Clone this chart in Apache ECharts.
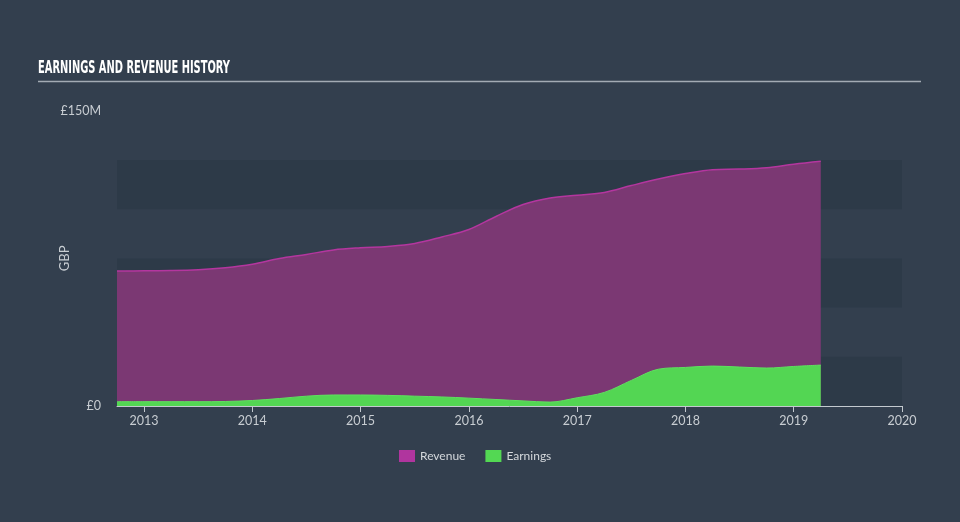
<!DOCTYPE html>
<html><head><meta charset="utf-8">
<script src="https://cdn.jsdelivr.net/npm/echarts@6/dist/echarts.min.js"></script>
<style>html,body{margin:0;padding:0;background:#333f4e;}#c{width:960px;height:522px;}</style>
</head><body><div id="c"></div>
<script>
const years = [2012.75,2013.0,2013.25,2013.5,2013.75,2014.0,2014.25,2014.5,2014.75,2015.0,2015.25,2015.5,2015.75,2016.0,2016.25,2016.5,2016.75,2017.0,2017.25,2017.5,2017.75,2018.0,2018.25,2018.5,2018.75,2019.0,2019.25];
const revenue = [68.6,68.7,68.8,69.2,70.2,72.0,74.9,77.0,79.3,80.4,81.1,82.6,85.9,89.7,96.3,102.4,105.7,107.1,108.5,112.0,115.3,118.1,120.1,120.4,121.1,122.9,124.4];
const earnings = [2.2,2.2,2.2,2.2,2.3,2.8,3.8,5.0,5.6,5.6,5.4,5.0,4.6,4.0,3.3,2.6,2.0,4.2,6.9,13.0,18.7,19.6,20.3,19.8,19.3,20.1,20.8];
const yearTicks = [2013,2014,2015,2016,2017,2018,2019,2020];
const yLabels = {0:'£0',150:'£150M'};

const chart = echarts.init(document.getElementById('c'), null, {renderer:'canvas'});
const font = 'Lato, "Open Sans", sans-serif';
chart.setOption({
  backgroundColor:'#333f4e',
  animation:false,
  graphic:[
    {type:'text', x:38, y:59, style:{text:'EARNINGS AND REVENUE HISTORY', fill:'#ffffff', font:'bold 18px "DejaVu Sans Condensed", "Liberation Sans Narrow", sans-serif'}, scaleX:0.61},
    {type:'line', shape:{x1:38,y1:81.5,x2:921,y2:81.5}, style:{stroke:'#a3abb4', lineWidth:1.5}}
  ],
  grid:{left:117, right:58, top:110.8, bottom:116},
  legend:{left:399, top:450, padding:0, itemWidth:16, itemHeight:12, itemGap:20, icon:'rect',
    textStyle:{color:'#d4d8dc', fontSize:12, fontFamily:font},
    data:['Revenue','Earnings']},
  xAxis:{type:'value', min:2012.75, max:2020,
    axisLine:{lineStyle:{color:'#c3c9cf', width:1}},
    axisTick:{customValues:yearTicks, length:6, lineStyle:{color:'#c3c9cf'}},
    axisLabel:{customValues:yearTicks, color:'#c8cdd2', fontSize:12.5, fontFamily:font, margin:8, formatter:v=>String(Math.round(v))},
    splitLine:{show:false}},
  yAxis:{type:'value', min:0, max:150, interval:25, name:'GBP', nameLocation:'middle', nameGap:46, nameMoveOverlap:false,
    nameTextStyle:{color:'#c8cdd2', fontSize:13, fontFamily:font},
    axisLine:{show:false}, axisTick:{show:false},
    axisLabel:{color:'#c8cdd2', fontSize:12.5, fontFamily:font, margin:16, formatter:v=>yLabels[v]||'', padding:[0,0,4,0]},
    splitLine:{show:false},
    splitArea:{show:true, areaStyle:{color:['#2d3a48','rgba(0,0,0,0)']}}},
  series:[
    {name:'Revenue', type:'line', data:years.map((x,i)=>[x,revenue[i]]), smooth:0.35, showSymbol:false,
      itemStyle:{color:'#b0359e'}, lineStyle:{color:'#b4369f', width:1.5}, areaStyle:{color:'#7b3873', opacity:1}},
    {name:'Earnings', type:'line', data:years.map((x,i)=>[x,earnings[i]]), smooth:0.35, showSymbol:false,
      itemStyle:{color:'#53d853'}, lineStyle:{color:'#5fe05f', width:1}, areaStyle:{color:'#53d653', opacity:1}}
  ]
});
</script></body></html>
